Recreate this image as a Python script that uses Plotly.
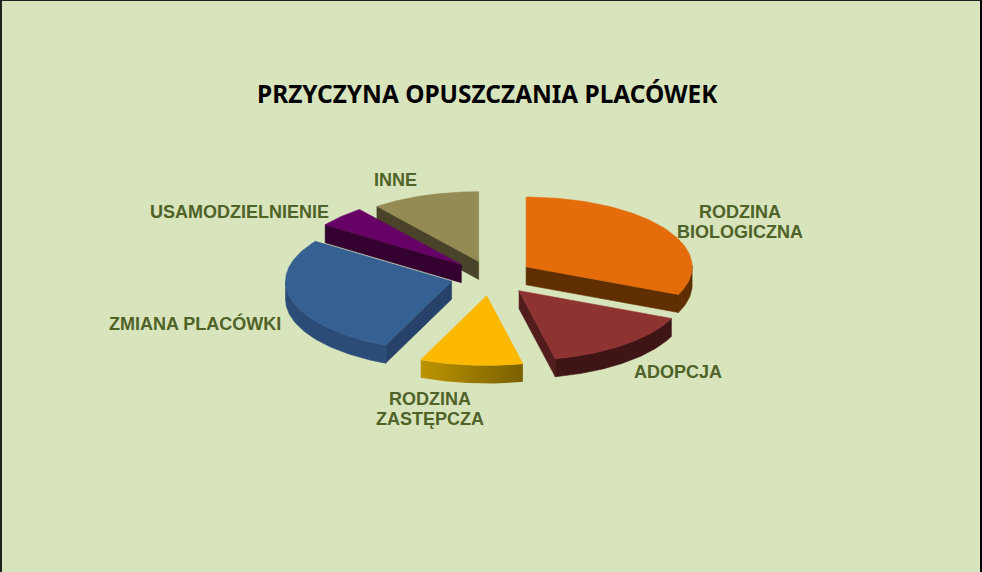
import numpy as np
import plotly.graph_objects as go

# Data
categories = ["RODZINA BIOLOGICZNA", "ADOPCJA", "RODZINA ZASTĘPCZA", "ZMIANA PLACÓWKI", "USAMODZIELNIENIE", "INNE"]
values = [31.5, 15.0, 10.0, 28.2, 4.8, 10.5]
label_lines = ["RODZINA", "BIOLOGICZNA", "ADOPCJA", "RODZINA", "ZASTĘPCZA", "ZMIANA PLACÓWKI", "USAMODZIELNIENIE", "INNE"]

# Styles
label_pos = [(740, 212), (740, 232), (678, 372), (430, 399), (430, 419), (195, 323), (239, 212), (395, 180)]
top_colors = ["#E46C0A", "#8E3232", "#FDB900", "#366092", "#660066", "#948A54"]
edge_colors = ["#5F2F00", "#521C1C", "#B88E00", "#27426A", "#33002F", "#494429"]
rim_colors = ["#5F2F00", "#3F1414", "#B88E00", "#2C4C78", "#33002F", "#494429"]
pulls = [42, 44, 46, 41, 41, 38]
draw_order = [5, 4, 0, 3, 1, 2]
CX, CY, RX, KY, DEPTH = 491, 276.5, 166, 0.42, 18

fig = go.Figure()
total = sum(values)
bounds = np.cumsum([0] + values) / total * 2 * np.pi


def add_poly(xs, ys, color, gradient=None):
    kw = dict(fillgradient=gradient) if gradient else dict(fillcolor=color)
    fig.add_trace(go.Scatter(x=xs, y=ys, mode="lines", fill="toself",
                             line=dict(color=color, width=0.6 if not gradient else 0),
                             hoverinfo="skip", showlegend=False, **kw))


def quad(x0, y0, x1, y1):
    return [x0, x1, x1, x0, x0], [y0, y1, y1 + DEPTH, y0 + DEPTH, y0]


for i in draw_order:
    a0, a1 = bounds[i], bounds[i + 1]
    mid = (a0 + a1) / 2
    ax = CX + pulls[i] * np.sin(mid)
    ay = CY - pulls[i] * KY * np.cos(mid)
    th = np.linspace(a0, a1, 80)
    ex = ax + RX * np.sin(th)
    ey = ay - RX * KY * np.cos(th)
    # flat walls along the cut edges that face the viewer
    if -np.sin(a0) > 0.01:
        add_poly(*quad(ax, ay, ex[0], ey[0]), edge_colors[i])
    if np.sin(a1) > 0.01:
        add_poly(*quad(ax, ay, ex[-1], ey[-1]), edge_colors[i])
    # rim wall on the part of the arc that faces the viewer
    vis = np.cos(th) <= 0.02
    if vis.any():
        tx, ty = ex[vis], ey[vis]
        grad = None
        if i == 2:  # yellow slice shades from left to right
            grad = dict(type="horizontal", colorscale=[[0, "#BC9400"], [1, "#7A6000"]])
        add_poly(np.r_[tx, tx[::-1], tx[0]], np.r_[ty, ty[::-1] + DEPTH, ty[0]], rim_colors[i], grad)
    add_poly(np.r_[ax, ex, ax], np.r_[ay, ey, ay], top_colors[i])

annotations = [dict(x=x, y=y, xref="x", yref="y", text=t, showarrow=False, align="center",
                    font=dict(family="Liberation Sans", size=18, color="#4F6228", weight="bold"))
               for t, (x, y) in zip(label_lines, label_pos)]
annotations.append(dict(x=487, y=93, xref="x", yref="y", text="PRZYCZYNA OPUSZCZANIA PLACÓWEK", showarrow=False,
                        font=dict(family="Noto Sans", size=24.4, color="#000000", weight="bold")))


def edge(x0, y0, x1, y1, width, color):
    return dict(type="line", xref="x", yref="y", x0=x0, y0=y0, x1=x1, y1=y1, line=dict(color=color, width=width))


fig.update_layout(
    width=982, height=572, margin=dict(l=0, r=0, t=0, b=0, pad=0),
    paper_bgcolor="#D8E4BC", plot_bgcolor="#D8E4BC", showlegend=False,
    xaxis=dict(range=[0, 982], visible=False, fixedrange=True),
    yaxis=dict(range=[572, 0], visible=False, fixedrange=True),
    annotations=annotations,
    shapes=[edge(1, 0, 1, 572, 2, "#222222"), edge(0, 0.5, 982, 0.5, 1, "#222222"),
            edge(981, 0, 981, 572, 2, "#000000")],
)
fig.write_html("out.html", config=dict(displayModeBar=False),
               post_script="document.body.style.margin='0';document.documentElement.style.overflow='hidden';")
